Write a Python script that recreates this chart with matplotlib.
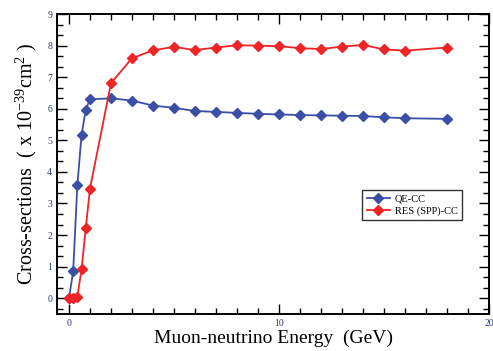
import matplotlib
matplotlib.use("Agg")
import matplotlib.pyplot as plt
from matplotlib.ticker import MultipleLocator

energy = [0, 0.2, 0.4, 0.6, 0.8, 1, 2, 3, 4, 5, 6, 7, 8, 9, 10, 11, 12, 13, 14, 15, 16, 18]
qe_cc = [0.0, 0.85, 3.58, 5.18, 5.97, 6.30, 6.33, 6.26, 6.10, 6.03, 5.93, 5.90, 5.87,
         5.84, 5.82, 5.80, 5.79, 5.78, 5.77, 5.73, 5.70, 5.68]
res_cc = [0.0, 0.0, 0.05, 0.92, 2.22, 3.47, 6.81, 7.60, 7.85, 7.96, 7.86, 7.94, 8.01,
          8.00, 7.98, 7.92, 7.89, 7.97, 8.02, 7.88, 7.84, 7.94]
series_labels = ["QE-CC", "RES (SPP)-CC"]

plt.rcParams['font.family'] = ['Liberation Serif', 'DejaVu Serif']
plt.rcParams['mathtext.fontset'] = 'custom'
plt.rcParams['mathtext.rm'] = 'Liberation Serif'
plt.rcParams['mathtext.it'] = 'Liberation Serif:italic'

fig = plt.figure(figsize=(4.93, 3.51), dpi=100)
ax = fig.add_axes([0.1156, 0.1054, 0.8764, 0.8546])

blue = '#3b4fa6'
red = '#ee2427'
ax.plot(energy, qe_cc, color=blue, marker='D', markersize=5.5, lw=1.3, label=series_labels[0], zorder=3)
ax.plot(energy, res_cc, color=red, marker='D', markersize=5.5, lw=1.3, label=series_labels[1], zorder=4)

ax.set_xlim(-0.57, 20)
ax.set_ylim(-0.5, 9)
ax.xaxis.set_major_locator(MultipleLocator(10))
ax.xaxis.set_minor_locator(MultipleLocator(1))
ax.yaxis.set_major_locator(MultipleLocator(1))
ax.yaxis.set_minor_locator(MultipleLocator(1/3))
ax.tick_params(which='both', direction='in', top=True, right=True, labelsize=7,
               labelcolor='#2e3a6e', width=1.0)
ax.tick_params(which='major', length=7)
ax.tick_params(which='minor', length=4)
for s in ax.spines.values():
    s.set_linewidth(1.4)

ax.set_xlabel("Muon-neutrino Energy  (GeV)", fontsize=14, labelpad=1)
ax.set_ylabel(r"Cross-sections  ( x 10$^{-39}$cm$^{2}$ )", fontsize=14.5, labelpad=6)

leg = ax.legend(loc='lower left', bbox_to_anchor=(0.695, 0.295), fontsize=7.5,
                frameon=True, fancybox=False, edgecolor='black', handlelength=2.2,
                borderpad=0.4, labelspacing=0.3, handletextpad=0.5)
leg.get_frame().set_linewidth(1.0)

fig.savefig("out.png", dpi=100)
